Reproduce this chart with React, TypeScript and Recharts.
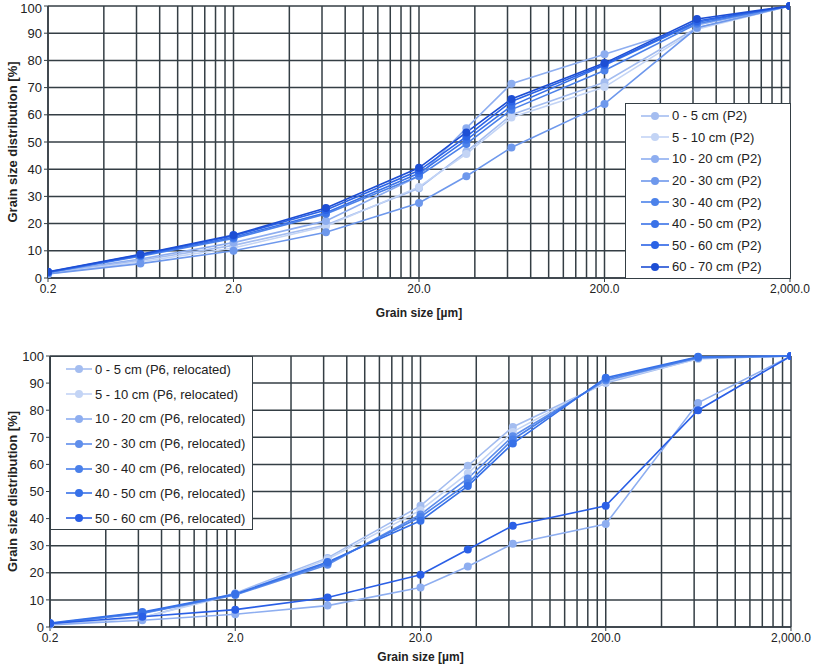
import React from "react";
import {
  LineChart,
  Line,
  XAxis,
  YAxis,
  CartesianGrid,
  ReferenceLine,
  Legend,
  Label,
} from "recharts";

const FONT = "'Liberation Sans', Arial, sans-serif";
const GRID = "#343e44";

// grain sizes [µm]
const grainSizes = [0.2, 0.63, 2, 6.3, 20, 36, 63, 200, 630, 2000];
const xTicks = [0.2, 2, 20, 200, 2000];
const yTicks = [0, 10, 20, 30, 40, 50, 60, 70, 80, 90, 100];

// P2 profile
const p2Names = [
  "0 - 5 cm (P2)",
  "5 - 10 cm (P2)",
  "10 - 20 cm (P2)",
  "20 - 30 cm (P2)",
  "30 - 40 cm (P2)",
  "40 - 50 cm (P2)",
  "50 - 60 cm (P2)",
  "60 - 70 cm (P2)",
];
const p2_0_5 = [1.5, 6.5, 12, 19.5, 33, 46.5, 60, 72, 92, 100];
const p2_5_10 = [1.5, 6, 11, 19, 33.5, 45.6, 59, 70.2, 91.5, 100];
const p2_10_20 = [2, 7, 13, 21, 37.5, 55.1, 71.4, 82.3, 93, 100];
const p2_20_30 = [1.5, 5.3, 10, 16.8, 27.6, 37.4, 48, 64, 92, 100];
const p2_30_40 = [2, 8, 14.5, 23.5, 37.5, 49.3, 61.9, 76.3, 93.5, 100];
const p2_40_50 = [2, 8.3, 15, 24, 38.5, 50.8, 63.3, 78.2, 94, 100];
const p2_50_60 = [2.2, 8.5, 15.5, 25, 39.5, 52, 64.9, 78.5, 94.5, 100];
const p2_60_70 = [2.3, 8.7, 15.8, 25.7, 40.5, 53.5, 65.8, 79, 95.2, 100];
const p2Values = [p2_0_5, p2_5_10, p2_10_20, p2_20_30, p2_30_40, p2_40_50, p2_50_60, p2_60_70];
const p2Colors = ["#a4bdf0", "#c3d4f5", "#8eaef0", "#6e98ec", "#4c82ea", "#3a72e8", "#2b63e6", "#1d4ed4"];

// P6 profile (relocated)
const p6Names = [
  "0 - 5 cm (P6, relocated)",
  "5 - 10 cm (P6, relocated)",
  "10 - 20 cm (P6, relocated)",
  "20 - 30 cm (P6, relocated)",
  "30 - 40 cm (P6, relocated)",
  "40 - 50 cm (P6, relocated)",
  "50 - 60 cm (P6, relocated)",
];
const p6_0_5 = [1, 3.5, 12.5, 25.5, 44.7, 59.5, 73.8, 90, 99, 100];
const p6_5_10 = [1, 3.5, 12, 25, 43.1, 56.7, 72, 90.5, 99, 100];
const p6_10_20 = [0.8, 2.5, 4.7, 7.9, 14.6, 22.3, 30.7, 38, 82.7, 100];
const p6_20_30 = [1.2, 5, 11.8, 23, 41.5, 54.8, 70.4, 91, 99.3, 100];
const p6_30_40 = [1.3, 5.2, 12, 23.5, 40.6, 53, 69.2, 91.5, 99.5, 100];
const p6_40_50 = [1.5, 5.5, 12.2, 24, 39.2, 52, 67.7, 92, 99.7, 100];
const p6_50_60 = [1.3, 3.8, 6.4, 10.9, 19.3, 28.6, 37.4, 44.7, 80, 100];
const p6Values = [p6_0_5, p6_5_10, p6_10_20, p6_20_30, p6_30_40, p6_40_50, p6_50_60];
const p6Colors = ["#a4bdf0", "#c3d4f5", "#8eaef0", "#5f8eeb", "#4a80ea", "#3771e8", "#2a5fe6"];

// log grid lines: 0.2*k, 2*k, 20*k, 200*k
const gridX: number[] = [];
[0.2, 2, 20, 200].forEach((d) => {
  for (let k = 1; k < 10; k++) gridX.push(+(d * k).toPrecision(3));
});
gridX.push(2000);

const buildRows = (values: number[][]) =>
  grainSizes.map((x, i) => {
    const row: any = { x };
    values.forEach((s, j) => {
      row["s" + j] = s[i];
    });
    return row;
  });

const fmtX = (v: number) =>
  v.toLocaleString("en-US", { minimumFractionDigits: 1, maximumFractionDigits: 1 });

// legend keeps series order (recharts sorts payload by name otherwise)
const makeLegend = (names: string[], colors: string[], rowH: number, lineW: number, pad: number) => () => (
  <div
    style={{
      border: `1.5px solid ${GRID}`,
      background: "#fff",
      width: "100%",
      height: "100%",
      boxSizing: "border-box",
      paddingTop: pad,
      fontFamily: FONT,
      fontSize: 13,
      color: "#222",
    }}
  >
    {names.map((n, i) => (
      <div key={n} style={{ display: "flex", alignItems: "center", height: rowH, paddingLeft: 15 }}>
        <svg width={lineW} height={10} style={{ marginRight: 3 }}>
          <line x1={0} y1={5} x2={lineW} y2={5} stroke={colors[i]} strokeWidth={1.6} />
          <circle cx={lineW / 2} cy={5} r={4} fill={colors[i]} />
        </svg>
        <span>{n}</span>
      </div>
    ))}
  </div>
);

type PanelProps = {
  values: number[][];
  names: string[];
  colors: string[];
  width: number;
  height: number;
  margin: any;
  yWidth: number;
  xHeight: number;
  legendStyle: any;
  legend: any;
};

function Panel({ values, names, colors, width, height, margin, yWidth, xHeight, legendStyle, legend }: PanelProps) {
  const data = buildRows(values);
  return (
    <LineChart width={width} height={height} data={data} margin={margin}>
      <CartesianGrid vertical={false} stroke={GRID} strokeWidth={1.5} />
      {gridX.map((g) => (
        <ReferenceLine key={g} x={g} stroke={GRID} strokeWidth={1.5} />
      ))}
      <XAxis
        dataKey="x"
        type="number"
        scale="log"
        domain={[0.2, 2000]}
        ticks={xTicks}
        tickFormatter={fmtX}
        height={xHeight}
        tick={{ fontSize: 12, fill: "#222", fontFamily: FONT }}
        tickSize={4}
        tickLine={{ stroke: GRID }}
        axisLine={{ stroke: GRID, strokeWidth: 1.5 }}
        allowDataOverflow
      >
        <Label
          value="Grain size [µm]"
          position="insideBottom"
          offset={8}
          style={{ fontSize: 12, fontWeight: "bold", fill: "#222", fontFamily: FONT }}
        />
      </XAxis>
      <YAxis
        type="number"
        domain={[0, 100]}
        ticks={yTicks}
        width={yWidth}
        tick={{ fontSize: 13, fill: "#222", fontFamily: FONT }}
        tickSize={4}
        tickLine={{ stroke: GRID }}
        axisLine={{ stroke: GRID, strokeWidth: 1.5 }}
      >
        <Label
          value="Grain size distribution  [%]"
          angle={-90}
          position="insideLeft"
          offset={12}
          style={{ textAnchor: "middle", fontSize: 13, fontWeight: "bold", fill: "#222", fontFamily: FONT }}
        />
      </YAxis>
      <Legend
        layout="vertical"
        align="center"
        verticalAlign="middle"
        wrapperStyle={legendStyle}
        content={legend}
      />
      {names.map((n, j) => (
        <Line
          key={n}
          dataKey={"s" + j}
          name={n}
          stroke={colors[j]}
          strokeWidth={1.6}
          dot={{ r: 4, fill: colors[j], stroke: colors[j], strokeWidth: 0 }}
          activeDot={false}
          isAnimationActive={false}
        />
      ))}
    </LineChart>
  );
}

export default function App() {
  return (
    <div style={{ position: "absolute", left: 0, top: 0, width: 813, height: 669, background: "#fff" }}>
      <div style={{ position: "absolute", left: 0, top: 0 }}>
        <Panel
          values={p2Values}
          names={p2Names}
          colors={p2Colors}
          width={813}
          height={325}
          margin={{ top: 6, right: 23, left: 0, bottom: 0 }}
          yWidth={48}
          xHeight={47}
          legendStyle={{ left: 625, top: 103, width: 166, height: 176 }}
          legend={makeLegend(p2Names, p2Colors, 21.6, 28, 1)}
        />
      </div>
      <div style={{ position: "absolute", left: 0, top: 330 }}>
        <Panel
          values={p6Values}
          names={p6Names}
          colors={p6Colors}
          width={813}
          height={339}
          margin={{ top: 26, right: 22, left: 0, bottom: 0 }}
          yWidth={50}
          xHeight={42}
          legendStyle={{ left: 50, top: 26, width: 203, height: 174 }}
          legend={makeLegend(p6Names, p6Colors, 24.8, 26, 0)}
        />
      </div>
    </div>
  );
}
